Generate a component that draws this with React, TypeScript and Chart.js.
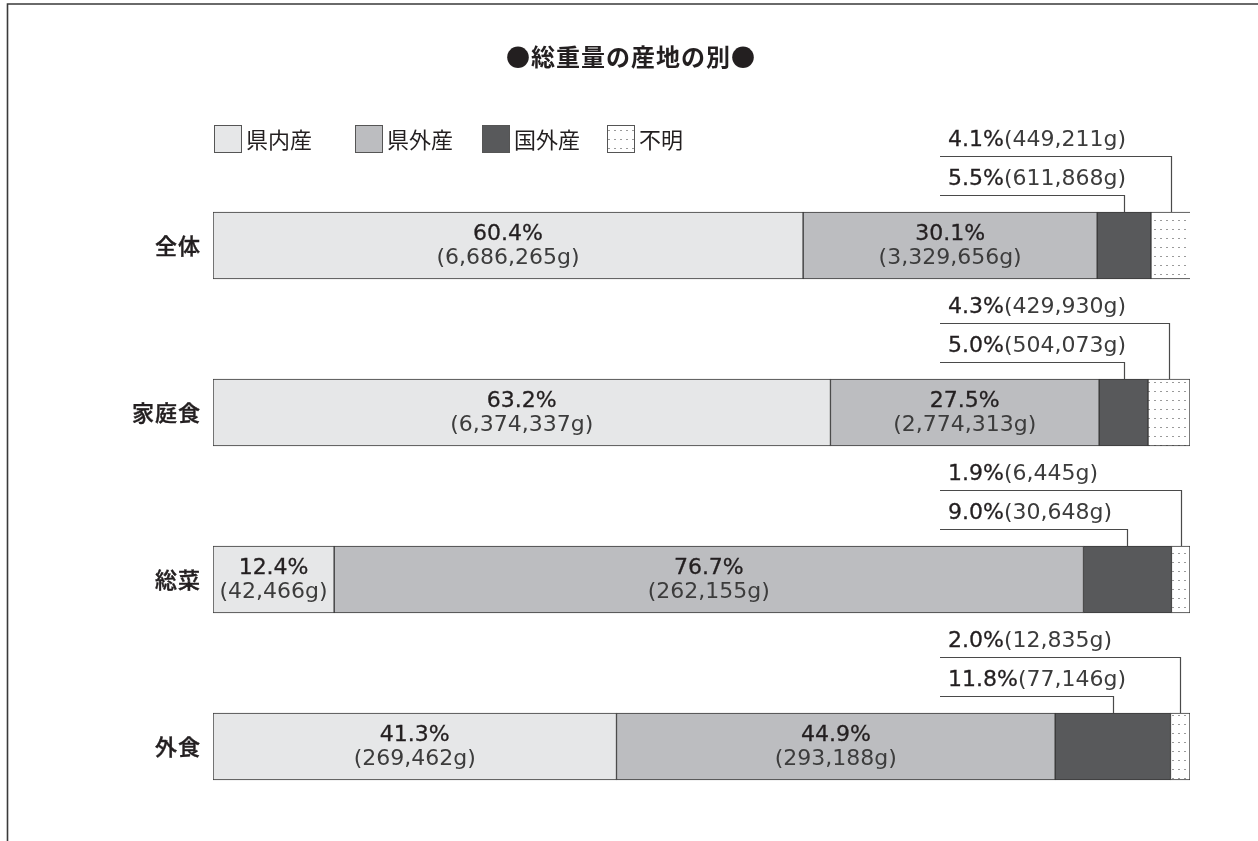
import React, { useEffect, useRef } from "react";
import { Chart, registerables } from "chart.js";

Chart.register(...registerables);

const categories = ["全体", "家庭食", "総菜", "外食"];
const seriesNames = ["県内産", "県外産", "国外産", "不明"];
const kennaiPct = [60.4, 63.2, 12.4, 41.3];
const kengaiPct = [30.1, 27.5, 76.7, 44.9];
const kokugaiPct = [5.5, 5.0, 9.0, 11.8];
const fumeiPct = [4.1, 4.3, 1.9, 2.0];
const kennaiGram = [6686265, 6374337, 42466, 269462];
const kengaiGram = [3329656, 2774313, 262155, 293188];
const kokugaiGram = [611868, 504073, 30648, 77146];
const fumeiGram = [449211, 429930, 6445, 12835];
const title = "●総重量の産地の別●";

const W = 1258;
const H = 841;
const NUM_FONT = '"DejaVu Sans", sans-serif';
const JP_FONT = '"Noto Sans CJK JP", sans-serif';

function makePattern(): CanvasPattern | string {
  const pc = document.createElement("canvas");
  pc.width = 6;
  pc.height = 9;
  const p = pc.getContext("2d");
  if (!p) return "#fff";
  p.fillStyle = "#ffffff";
  p.fillRect(0, 0, 6, 9);
  p.fillStyle = "#9a9a9a";
  p.fillRect(2, 4, 2, 1);
  return p.createPattern(pc, "repeat") || "#fff";
}

export default function App() {
  const ref = useRef<HTMLCanvasElement | null>(null);

  useEffect(() => {
    const canvas = ref.current;
    if (!canvas) return;
    const pattern = makePattern();
    const fills: any[] = ["#e6e7e8", "#bcbdc0", "#58595b", pattern];
    const pcts = [kennaiPct, kengaiPct, kokugaiPct, fumeiPct];
    const grams = [kennaiGram, kengaiGram, kokugaiGram, fumeiGram];
    const fmt = (n: number) => n.toLocaleString("en-US");

    const heavyText = (ctx: CanvasRenderingContext2D, s: string, x: number, y: number, lw: number) => {
      ctx.fillText(s, x, y);
      ctx.lineWidth = lw;
      ctx.strokeStyle = ctx.fillStyle as string;
      ctx.strokeText(s, x, y);
    };

    const overlay = {
      id: "overlay",
      afterDatasetsDraw(chart: any) {
        const ctx: CanvasRenderingContext2D = chart.ctx;
        ctx.save();
        // frame
        ctx.strokeStyle = "#3a3a3a";
        ctx.lineWidth = 1.6;
        ctx.beginPath();
        ctx.moveTo(W, 4);
        ctx.lineTo(7.5, 4);
        ctx.lineTo(7.5, H);
        ctx.stroke();

        // title
        ctx.fillStyle = "#231f20";
        ctx.font = `bold 24px ${JP_FONT}`;
        (ctx as any).letterSpacing = "1px";
        ctx.textAlign = "center";
        ctx.textBaseline = "middle";
        ctx.fillText(title, 631, 57);
        (ctx as any).letterSpacing = "0px";

        // legend
        const legendX = [214, 355, 482, 607];
        ctx.font = `22px ${JP_FONT}`;
        ctx.textAlign = "left";
        seriesNames.forEach((name, k) => {
          const x = legendX[k];
          ctx.fillStyle = fills[k];
          ctx.fillRect(x, 125, 28, 28);
          ctx.strokeStyle = "#555";
          ctx.lineWidth = 1;
          ctx.strokeRect(x + 0.5, 125.5, 27, 27);
          ctx.fillStyle = "#231f20";
          ctx.fillText(name, x + 32, 140);
        });

        // category labels
        const yScale = chart.scales.y;
        ctx.font = `500 22px ${JP_FONT}`;
        (ctx as any).letterSpacing = "1px";
        ctx.textAlign = "right";
        categories.forEach((c, i) => {
          ctx.fillStyle = "#231f20";
          heavyText(ctx, c, 201, yScale.getPixelForValue(i), 0.4);
        });
        (ctx as any).letterSpacing = "0px";

        // inside labels
        for (let d = 0; d < 2; d++) {
          const meta = chart.getDatasetMeta(d);
          meta.data.forEach((el: any, i: number) => {
            const cx = (el.x + el.base) / 2;
            ctx.textAlign = "center";
            ctx.font = `22px ${NUM_FONT}`;
            ctx.fillStyle = "#231f20";
            heavyText(ctx, pcts[d][i].toFixed(1) + "%", cx, el.y - 11.5, 0.3);
            ctx.fillStyle = "#3c3c3c";
            ctx.fillText("(" + fmt(grams[d][i]) + "g)", cx, el.y + 12.5);
          });
        }

        // leader labels
        const offsets = [0, 0, 17, 56];
        for (let d = 2; d < 4; d++) {
          const meta = chart.getDatasetMeta(d);
          meta.data.forEach((el: any, i: number) => {
            const cx = Math.round((el.x + el.base) / 2) + 0.5;
            const top = el.y - el.height / 2;
            const ly = Math.round(top - offsets[d]) + 0.5;
            ctx.strokeStyle = "#4a4a4a";
            ctx.lineWidth = 1.2;
            ctx.beginPath();
            ctx.moveTo(940, ly);
            ctx.lineTo(cx, ly);
            ctx.lineTo(cx, top);
            ctx.stroke();
            ctx.textAlign = "left";
            ctx.font = `22px ${NUM_FONT}`;
            const p = pcts[d][i].toFixed(1) + "%";
            ctx.fillStyle = "#231f20";
            heavyText(ctx, p, 948, ly - 16, 0.3);
            const w = ctx.measureText(p).width;
            ctx.fillStyle = "#3c3c3c";
            ctx.fillText("(" + fmt(grams[d][i]) + "g)", 948 + w, ly - 16);
          });
        }
        ctx.restore();
      },
    };

    const chart = new Chart(canvas, {
      type: "bar",
      data: {
        labels: categories,
        datasets: pcts.map((vals, k) => ({
          label: seriesNames[k],
          data: vals,
          backgroundColor: fills[k],
          borderColor: "#3a3a3a",
          borderWidth: 1,
          borderSkipped: false,
          barThickness: 67,
        })),
      },
      options: {
        indexAxis: "y",
        responsive: false,
        animation: false,
        devicePixelRatio: 1,
        layout: { padding: { left: 213, right: 68, top: 162, bottom: 11 } },
        plugins: {
          legend: { display: false },
          title: { display: false },
          tooltip: { enabled: false },
        },
        scales: {
          x: { stacked: true, min: 0, max: 100, display: false },
          y: { stacked: true, display: false },
        },
      } as any,
      plugins: [overlay],
    });
    return () => chart.destroy();
  }, []);

  return (
    <div style={{ position: "absolute", left: 0, top: 0, width: W, height: H, background: "#fff" }}>
      <canvas ref={ref} width={W} height={H} style={{ width: W, height: H, display: "block" }} />
    </div>
  );
}
